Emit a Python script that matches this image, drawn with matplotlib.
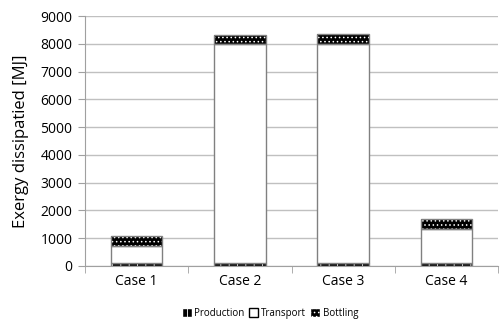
import numpy as np
import matplotlib; matplotlib.use('Agg')
import matplotlib.pyplot as plt
from matplotlib.patches import Patch

plt.rcParams['font.family'] = ['Open Sans', 'DejaVu Sans']
plt.rcParams['hatch.linewidth'] = 0.6

cases = ['Case 1', 'Case 2', 'Case 3', 'Case 4']
production = [110, 110, 110, 100]
transport = [610, 7870, 7900, 1220]
bottling = [360, 330, 360, 360]

fig = plt.figure(figsize=(5.0, 3.23), dpi=100)
ax = fig.add_axes([0.17, 0.1765, 0.826, 0.7735])
x = np.arange(len(cases))
w = 0.5
prod = np.array(production); trans = np.array(transport); bott = np.array(bottling)

# production: dark band with light pattern
ax.bar(x, prod, w, color='black', edgecolor='white', hatch='||', lw=0, zorder=2)
ax.bar(x, prod, w, fill=False, edgecolor='#808080', lw=1.0, zorder=3)
# transport: plain white
ax.bar(x, trans, w, bottom=prod, color='white', edgecolor='#808080', lw=1.0, zorder=3)
# bottling: black with small white dots
ax.bar(x, bott, w, bottom=prod + trans, color='black', edgecolor='white', hatch='....', lw=0, zorder=2)
ax.bar(x, bott, w, bottom=prod + trans, fill=False, edgecolor='#808080', lw=1.0, zorder=3)

ax.set_xlim(-0.5, 3.5); ax.set_ylim(0, 9000)
ax.set_yticks(range(0, 9001, 1000))
ax.yaxis.grid(True, color='#c0c0c0', lw=1.0, zorder=0)
ax.set_axisbelow(True)
ax.set_xticks(x); ax.set_xticklabels(cases, fontsize=10)
ax.set_xticks(np.arange(-0.5, 4.0, 1.0), minor=True)
ax.tick_params(axis='x', which='major', length=0, pad=6)
ax.tick_params(axis='x', which='minor', length=5, color='#a0a0a0', direction='out')
ax.tick_params(axis='y', length=5, color='#a0a0a0', labelsize=10, pad=4)
for s in ['top', 'right']:
    ax.spines[s].set_visible(False)
ax.spines['left'].set_color('#a0a0a0'); ax.spines['bottom'].set_color('#a0a0a0')
ax.set_ylabel('Exergy dissipatied [MJ]', fontsize=12, labelpad=8)

handles = [Patch(facecolor='black', edgecolor='white', hatch='||', label='Production'),
           Patch(facecolor='white', edgecolor='black', label='Transport'),
           Patch(facecolor='black', edgecolor='white', hatch='....', label='Bottling')]
fig.legend(handles=handles, loc='center', bbox_to_anchor=(0.54, 0.03), ncol=3, frameon=False,
           fontsize=7, handlelength=1.0, handleheight=1.0, handletextpad=0.3, columnspacing=0.4)
fig.savefig('out.png', dpi=100)
